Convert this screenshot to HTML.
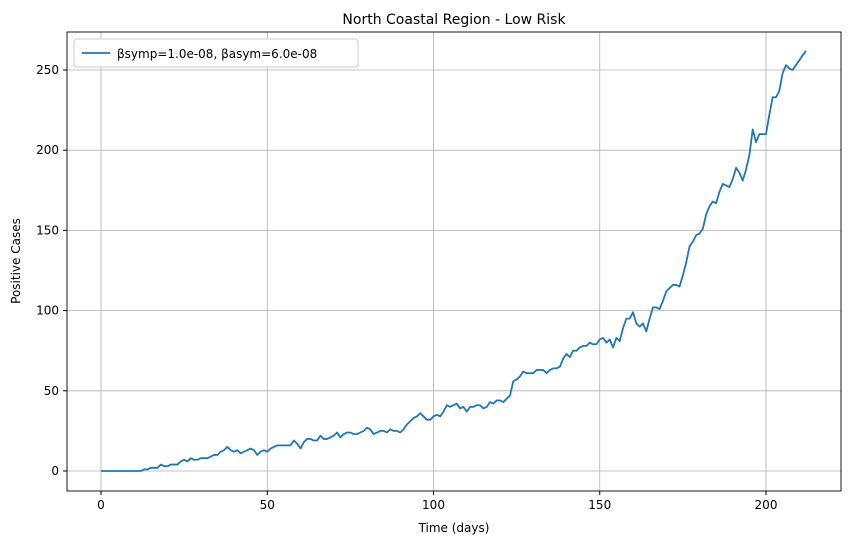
<!DOCTYPE html>
<html><head><meta charset="utf-8"><style>
body{margin:0;background:#fff;font-family:"Liberation Sans","DejaVu Sans",sans-serif}
svg text{font-family:"DejaVu Sans","Liberation Sans",sans-serif;fill:#000}
</style></head><body>
<svg id="chart" width="850" height="545" xmlns="http://www.w3.org/2000/svg">
<rect width="850" height="545" fill="#fff"/>
<g id="grid"></g><g id="ticks"></g>
<text x="454" y="24" text-anchor="middle" font-size="14">North Coastal Region - Low Risk</text>
<text x="454" y="532" text-anchor="middle" font-size="12">Time (days)</text>
<text x="20" y="261" text-anchor="middle" font-size="12" transform="rotate(-90 20 261)">Positive Cases</text>
<path id="series" fill="none" stroke="#1f77b4" stroke-width="1.8" stroke-linejoin="round"/>
<rect x="67" y="32" width="774" height="459" fill="none" stroke="#000" stroke-width="0.9"/>
<g>
<rect x="74" y="39" width="284" height="28" rx="3" fill="#fff" stroke="#ccc"/>
<line x1="82" y1="53" x2="110" y2="53" stroke="#1f77b4" stroke-width="1.8"/>
<text x="117" y="58" font-size="12">βsymp=1.0e-08, βasym=6.0e-08</text>
</g>
</svg>
<script>
const cases=[0,0,0,0,0,0,0,0,0,0,0,0,0,1,1,2,2,2,4,3,3,4,4,4,6,7,6,8,7,7,8,8,8,9,10,10,12,13,15,13,12,13,11,12,13,14,13,10,12,13,12,14,15,16,16,16,16,16,19,17,14,18,20,20,19,19,22,20,20,21,22,24,21,23,24,24,23,23,24,25,27,26,23,24,25,25,24,26,25,25,24,26,29,31,33,34,36,34,32,32,34,35,34,37,41,40,41,42,39,40,37,40,40,41,41,39,40,43,42,44,44,43,45,47,56,57,59,62,61,61,61,63,63,63,61,63,64,64,65,70,73,71,75,75,77,78,78,80,79,79,82,83,80,82,77,83,81,89,95,95,99,92,90,92,87,95,102,102,101,106,112,114,116,116,115,122,130,140,143,147,148,151,160,165,168,167,174,179,178,177,182,189,186,181,188,197,213,205,210,210,210,222,233,233,237,248,253,251,250,253,256,259,262];
const xTicks=[0,50,100,150,200];
const yTicks=[0,50,100,150,200,250];
const X=d=>101+d*3.325, Y=v=>471-v*1.604;
const ns="http://www.w3.org/2000/svg";
const grid=document.getElementById('grid'), tk=document.getElementById('ticks');
function mk(tag,attrs,parent){const e=document.createElementNS(ns,tag);for(const k in attrs)e.setAttribute(k,attrs[k]);parent.appendChild(e);return e;}
xTicks.forEach(t=>{
 const g=mk('line',{x1:X(t),x2:X(t),y1:32,y2:491,stroke:'#b0b0b0','stroke-width':0.8},grid);
 
 
 mk('line',{x1:X(t),x2:X(t),y1:491,y2:495,stroke:'#000'},tk);
 const l=mk('text',{x:X(t),y:509,'text-anchor':'middle','font-size':12},tk);l.textContent=t;
 
 
});
yTicks.forEach(t=>{
 const g=mk('line',{x1:67,x2:841,y1:Y(t),y2:Y(t),stroke:'#b0b0b0','stroke-width':0.8},grid);
 
 
 mk('line',{x1:63,x2:67,y1:Y(t),y2:Y(t),stroke:'#000'},tk);
 const l=mk('text',{x:59,y:Y(t)+4,'text-anchor':'end','font-size':12},tk);l.textContent=t;
 
 
});
document.getElementById('series').setAttribute('d',cases.map((v,i)=>(i?'L':'M')+X(i).toFixed(2)+','+Y(v).toFixed(2)).join(''));
</script>
</body></html>
